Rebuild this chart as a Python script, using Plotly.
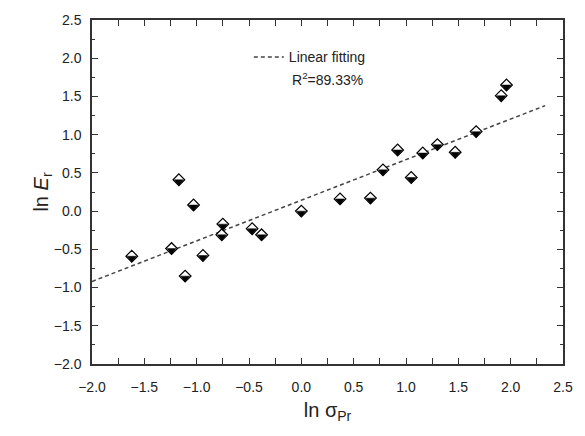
import plotly.graph_objects as go

# Data
ln_sigma = [-1.62, -1.24, -1.17, -1.11, -1.03, -0.94, -0.76, -0.75, -0.47, -0.38,
            0.00, 0.37, 0.66, 0.78, 0.92, 1.05, 1.16, 1.30, 1.47, 1.67, 1.91, 1.96]
ln_E = [-0.59, -0.49, 0.41, -0.85, 0.08, -0.58, -0.31, -0.17, -0.23, -0.31,
        0.00, 0.16, 0.17, 0.54, 0.80, 0.44, 0.76, 0.87, 0.77, 1.04, 1.51, 1.65]
fit_x = [-2.0, 2.33]
fit_y = [-0.92, 1.38]

x_range = [-2.0, 2.5]
y_range = [-2.0, 2.5]
tick_step = 0.5

FONT = "Liberation Sans, Arial, sans-serif"
INK = "#222222"
AX = "#333333"

shift = 0.026  # visual offset (data units) for the lower half of the marker

fig = go.Figure()
fig.add_trace(go.Scatter(
    x=fit_x, y=fit_y, mode="lines", name="Linear fitting",
    line=dict(color="#444444", width=1.5, dash="4px,3px"),
    showlegend=True))
fig.add_trace(go.Scatter(
    x=ln_sigma, y=ln_E, mode="markers", showlegend=False,
    marker=dict(symbol="diamond", size=9, color="white",
                line=dict(color="black", width=1.2))))
fig.add_trace(go.Scatter(
    x=ln_sigma, y=ln_E, mode="markers", showlegend=False, yaxis="y2",
    marker=dict(symbol="triangle-down", size=7.8, color="black",
                line=dict(color="black", width=0.5))))

axis_common = dict(
    showline=True, linecolor=AX, linewidth=1.5, mirror="allticks",
    ticks="inside", ticklen=6, tickwidth=1.2, tickcolor=AX,
    tickmode="linear", dtick=tick_step, tickformat=".1f",
    showgrid=False, zeroline=False,
    tickfont=dict(family=FONT, size=14, color=INK),
    minor=dict(ticks="inside", ticklen=3, tickwidth=1.2, tickcolor=AX,
               dtick=tick_step / 2, showgrid=False),
)

fig.update_layout(
    width=585, height=436,
    margin=dict(l=92, r=22, t=16, b=72),
    paper_bgcolor="white", plot_bgcolor="white",
    font=dict(family=FONT, color=INK),
    xaxis=dict(range=x_range, tick0=x_range[0], ticklabelstandoff=9,
               title=dict(text="ln σ<sub>Pr</sub>", font=dict(size=20, family=FONT, color=INK), standoff=9),
               **axis_common),
    yaxis=dict(range=y_range, tick0=y_range[0], ticklabelstandoff=6,
               title=dict(text="ln <i>E</i><sub>r</sub>", font=dict(size=20, family=FONT, color=INK), standoff=0),
               **axis_common),
    yaxis2=dict(range=[y_range[0] + shift, y_range[1] + shift], overlaying="y", visible=False),
    legend=dict(x=0.333, y=0.938, xanchor="left", yanchor="top",
                bgcolor="rgba(0,0,0,0)", font=dict(family=FONT, size=14, color=INK),
                itemwidth=30),
    annotations=[dict(x=0.42, y=0.828, xref="paper", yref="paper", xanchor="left", yanchor="middle",
                      text="R<sup>2</sup>=89.33%", showarrow=False,
                      font=dict(family=FONT, size=14, color=INK))],
)

fig.write_html("out.html", config={"displayModeBar": False},
               post_script="document.body.style.margin='0';")
